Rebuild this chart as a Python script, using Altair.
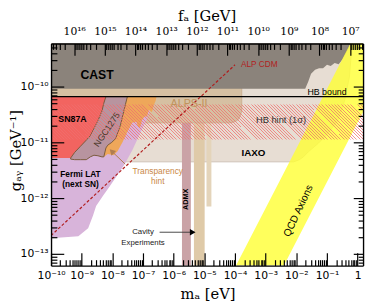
import numpy as np
import pandas as pd
import altair as alt

# ---------------- axis ranges ----------------
M_MIN, M_MAX = 1e-10, 1.5          # m_a [eV]
G_MIN, G_MAX = 6.2e-14, 5.9e-10    # g_a gamma [GeV^-1]
FA_TIMES_MA = 5.7e6                # f_a [GeV] * m_a [eV]

# ---------------- regions (log10 values) ----------------
cast_logm = [-10, -1.71, -1.61, -1.52, -1.39, -1.26, -1.13, -1.00, -0.88, -0.75, -0.62, -0.49, -0.40, -0.30, -0.24]
cast_logg = [-10.04, -10.04, -9.91, -9.77, -9.70, -9.67, -9.67, -9.61, -9.63, -9.58, -9.60, -9.51, -9.42, -9.32, -9.23]

iaxo_logm = [-10, -2.09, -1.90, -1.77, -1.61, -1.29, -0.97, -0.65, -0.43, -0.27, -0.18]
iaxo_logg = [-11.35, -11.35, -11.31, -11.26, -11.17, -11.02, -10.84, -10.61, -10.26, -9.83, -9.23]

alps_logm = [-10, -4.16, -4.00, -3.91, -3.84, -3.78]
alps_logg = [-10.65, -10.65, -10.63, -10.60, -10.54, -10.44]

fermi_logm = [-10, -9.11, -8.79, -8.63, -8.53, -8.31, -8.09, -7.83, -7.61, -7.35, -7.13, -6.87, -6.71]
fermi_logg = [-12.72, -12.68, -12.54, -12.31, -12.14, -11.96, -11.79, -11.58, -11.40, -11.14, -10.88, -10.58, -10.33]

orange_logm = [-8.28, -8.15, -7.96, -7.83, -7.67, -7.51, -7.35, -7.22, -7.16, -7.10, -7.03, -6.94, -6.87, -6.81, -6.71, -6.65, -6.59, -6.56]
orange_logg = [-11.26, -11.21, -11.23, -11.16, -11.00, -10.81, -10.65, -10.63, -10.72, -10.74, -10.60, -10.53, -10.54, -10.42, -10.46, -10.33, -10.26, -10.18]

sn_logm = [-10, -9.36, -9.11, -8.79, -8.47, -8.21, -8.09]
sn_logg = [-11.28, -11.28, -11.26, -11.14, -10.79, -10.44, -10.18]

ngc_logm = [-9.36, -9.23, -9.04, -8.85, -8.72, -8.60, -8.47, -8.34, -8.28, -8.21, -8.15, -8.02, -7.89, -7.74, -7.61, -7.51]
ngc_top = [-11.28, -11.18, -11.07, -10.96, -10.88, -10.75, -10.61, -10.44, -10.30, -10.18, -10.18, -10.18, -10.18, -10.18, -10.18, -10.18]
ngc_bot = [-11.30, -11.31, -11.31, -11.31, -11.26, -11.23, -11.24, -11.26, -11.26, -11.10, -11.05, -11.00, -10.93, -10.70, -10.40, -10.18]

qcd_logm = [-3.97, -2.41, 0.18]
qcd_upper = [-13.21, -11.55, -8.78]
qcd_lower = [-13.21, -13.21, -10.45]

# vertical haloscope strips: [logm_lo, logm_hi, logg_lo, logg_hi]
admx_strip = [-5.73, -5.44, -13.3, -10.65]
cavity_a = [-5.34, -4.99, -13.3, -10.65]
cavity_b = [-4.93, -4.77, -12.15, -10.65]

alp_cdm_logm = [-10.0, -4.0]
alp_cdm_logg = [-12.67, -9.61]

hb_bound_logg = -10.18
hb_hint_logg = [-10.95, -10.32]

# ---------------- ticks ----------------
SUP = str.maketrans("-0123456789", "⁻⁰¹²³⁴⁵⁶⁷⁸⁹")
m_exps = list(range(-10, 1))
g_exps = list(range(-13, -9))
f_exps = list(range(7, 17))


def pw(a):
    return [10.0 ** v for v in a]


def minor(kmin, kmax, lo, hi):
    return [j * 10.0 ** k for k in range(kmin, kmax + 1) for j in range(2, 10) if lo <= j * 10.0 ** k <= hi]


def lab(k):
    return "1" if k == 0 else "10" + str(k).translate(SUP)


def label_expr(exps):
    arr = ",".join("'%s'" % lab(k) for k in exps)
    return "[%s][round(log(datum.value)/LN10) - (%d)]" % (arr, exps[0])


xs = alt.Scale(type="log", domain=[M_MIN, M_MAX], nice=False)
ys = alt.Scale(type="log", domain=[G_MIN, G_MAX], nice=False)
fs = alt.Scale(type="log", domain=[FA_TIMES_MA / M_MAX, FA_TIMES_MA / M_MIN], reverse=True, nice=False)


def X(f):
    return alt.X(f, type="quantitative", scale=xs, axis=None)


def Y(f):
    return alt.Y(f, type="quantitative", scale=ys, axis=None)


def area(logm, lo, hi, **mk):
    if not isinstance(hi, list):
        hi = [hi] * len(logm)
    df = pd.DataFrame({"m": pw(logm), "lo": pw(lo), "hi": pw(hi)})
    return alt.Chart(df).mark_area(clip=True, **mk).encode(x=X("m"), y=Y("hi"), y2=alt.Y2("lo"))


def strip(r, **mk):
    df = pd.DataFrame({"m1": [10 ** r[0]], "m2": [10 ** r[1]], "g1": [10 ** r[2]], "g2": [10 ** r[3]]})
    return alt.Chart(df).mark_rect(clip=True, **mk).encode(x=X("m1"), x2=alt.X2("m2"), y=Y("g1"), y2=alt.Y2("g2"))


def text(t, lm, lg, **mk):
    df = pd.DataFrame({"t": [t], "m": [10 ** lm], "g": [10 ** lg]})
    base = dict(font="Liberation Sans", fontSize=9, color="black", align="center", baseline="middle")
    base.update(mk)
    return alt.Chart(df).mark_text(**base).encode(x=X("m"), y=Y("g"), text="t:N")


layers = []
layers.append(area(iaxo_logm, iaxo_logg, -9.0, color="#e7ddd3", stroke="#cbbfb3", strokeWidth=0.8))
layers.append(strip(admx_strip, color="#caa2a6"))
layers.append(strip(cavity_a, color="#dfcaa8"))
layers.append(strip(cavity_b, color="#e4d4ba"))
layers.append(area(alps_logm, alps_logg, -10.0, color="#d6c0a2", stroke="#c6ab8a", strokeWidth=0.8))
layers.append(area(fermi_logm, fermi_logg, -10.26, color="#d8b4da"))
layers.append(area(orange_logm, orange_logg, -10.18, color="#eea75a"))
layers.append(area(sn_logm, sn_logg, -10.18, color="#f26460"))
layers.append(area(ngc_logm, ngc_bot, ngc_top, fill="#b8949f", stroke="#7a5a3c", strokeWidth=1))
layers.append(area(cast_logm, cast_logg, -9.0, color="#8b837b"))
layers.append(area(qcd_logm, qcd_lower, qcd_upper, color="#ffff33", opacity=0.8))

# hatched HB hint band (diagonal stripes through a hard-stop gradient)
W, H = 319.0, 36.0
t = (1 / H + 1 / W) / (1 / H ** 2 + 1 / W ** 2)
N = 108
stops = []
for i in range(N):
    a, b = i / N, (i + 0.3) / N
    stops += [alt.GradientStop(offset=a, color="rgba(240,110,110,0)"),
              alt.GradientStop(offset=a, color="rgba(240,110,110,0.75)"),
              alt.GradientStop(offset=b, color="rgba(240,110,110,0.75)"),
              alt.GradientStop(offset=b, color="rgba(240,110,110,0)")]
hatch = alt.LinearGradient(gradient="linear", stops=stops, x1=0, y1=1, x2=t / H, y2=1 - t / W)
hb_df = pd.DataFrame({"m1": [M_MIN], "m2": [M_MAX], "g1": [10 ** hb_hint_logg[0]], "g2": [10 ** hb_hint_logg[1]]})
layers.append(alt.Chart(hb_df).mark_rect(clip=True, fill=hatch).encode(
    x=X("m1"), x2=alt.X2("m2"), y=Y("g1"), y2=alt.Y2("g2")))

layers.append(alt.Chart(pd.DataFrame({"g": [10 ** hb_bound_logg]})).mark_rule(
    color="black", strokeWidth=1.2).encode(y=Y("g")))
layers.append(alt.Chart(pd.DataFrame({"m": pw(alp_cdm_logm), "g": pw(alp_cdm_logg)})).mark_line(
    color="#b01c1c", strokeWidth=1.2, strokeDash=[3, 2], clip=True).encode(x=X("m"), y=Y("g")))

# arrows
tr_df = pd.DataFrame({"m": pw([-7.58, -8.0]), "g": pw([-11.39, -11.17])})
layers.append(alt.Chart(tr_df).mark_line(color="#b07d50", strokeWidth=1).encode(x=X("m"), y=Y("g")))
layers.append(alt.Chart(pd.DataFrame({"m": [10 ** -8.02], "g": [10 ** -11.16]})).mark_point(
    shape="triangle-up", filled=True, angle=315, size=45, color="#b07d50", opacity=1).encode(x=X("m"), y=Y("g")))
cav_df = pd.DataFrame({"m": pw([-6.46, -5.42]), "g": pw([-12.61, -12.61])})
layers.append(alt.Chart(cav_df).mark_line(color="#333333", strokeWidth=0.9).encode(x=X("m"), y=Y("g")))
layers.append(alt.Chart(pd.DataFrame({"m": [10 ** -5.38], "g": [10 ** -12.61]})).mark_point(
    shape="triangle-right", filled=True, size=45, color="black", opacity=1).encode(x=X("m"), y=Y("g")))

# labels
layers += [
    text("CAST", -8.50, -9.79, fontSize=12.5, fontWeight="bold"),
    text("SN87A", -9.30, -10.58, fontSize=9, fontWeight="bold"),
    text("NGC1275", -8.18, -10.77, fontSize=9, angle=304, color="#4a3628"),
    text("Fermi LAT", -9.04, -11.56, fontSize=8.5, fontWeight="bold"),
    text("(next SN)", -9.04, -11.75, fontSize=8.5, fontWeight="bold"),
    text("Transparency", -6.52, -11.51, fontSize=8.5, color="#c98746"),
    text("hint", -6.52, -11.70, fontSize=8.5, color="#c98746"),
    text("ALPS-II", -5.50, -10.32, fontSize=11, color="#c0935c"),
    text("HB hint (1σ)", -2.50, -10.60, fontSize=9.5, color="#333333"),
    text("IAXO", -3.40, -11.19, fontSize=10, fontWeight="bold"),
    text("HB bound", -1.00, -10.09, fontSize=9),
    text("ALP CDM", -3.21, -9.60, fontSize=8.5, color="#b22222"),
    text("ADMX", -5.60, -12.02, fontSize=7.5, fontWeight="bold", angle=270),
    text("QCD Axions", -1.93, -12.23, fontSize=10.5, angle=295),
    text("Cavity", -7.00, -12.61, fontSize=8, color="#222222"),
    text("Experiments", -7.00, -12.80, fontSize=8, color="#222222"),
]

# ---------------- axes ----------------
COMMON = dict(grid=False, zindex=3, labelFlush=False, labelOverlap=False)


def axis_layer(channel, field, vals, scale, **ax):
    df = pd.DataFrame({field: vals})
    kw = dict(COMMON)
    kw.update(ax)
    enc = alt.X if channel == "x" else alt.Y
    return alt.Chart(df).mark_point(opacity=0).encode(
        **{channel: enc(field, type="quantitative", scale=scale, axis=alt.Axis(**kw))})


def tick_axis(channel, field, vals, scale, orient, size, width=1.2):
    return axis_layer(channel, field, vals, scale, orient=orient, values=vals, labels=False, domain=False,
                      ticks=True, tickSize=size, offset=-size, tickColor="black", tickWidth=width, title=None)


maj_m = [10.0 ** k for k in m_exps]
min_m = minor(-10, -1, M_MIN, M_MAX)
maj_g = [10.0 ** k for k in g_exps]
min_g = minor(-14, -10, G_MIN, G_MAX)
maj_f = [10.0 ** k for k in f_exps]
min_f = minor(6, 16, FA_TIMES_MA / M_MAX, FA_TIMES_MA / M_MIN)

layers += [
    axis_layer("x", "mv", maj_m, xs, orient="bottom", values=maj_m, labelExpr=label_expr(m_exps),
               ticks=False, tickSize=0, domain=True, domainColor="black", domainWidth=1.4,
               labelFont="DejaVu Sans", labelFontSize=11, labelColor="black", labelPadding=4,
               title="mₐ [eV]", titleFont="DejaVu Serif", titleFontSize=15, titleFontWeight="normal",
               titleColor="black", titleX=160, titleY=29, titleAlign="center", titleBaseline="middle"),
    tick_axis("x", "mv", maj_m, xs, "bottom", 13),
    tick_axis("x", "mv", min_m, xs, "bottom", 6),
    axis_layer("x", "fv", maj_f, fs, orient="top", values=maj_f, labelExpr=label_expr(f_exps),
               ticks=False, tickSize=0, domain=True, domainColor="black", domainWidth=1.4,
               labelFont="DejaVu Serif", labelFontSize=11, labelColor="black", labelPadding=7,
               title="fₐ [GeV]", titleFont="DejaVu Serif", titleFontSize=15, titleFontWeight="normal",
               titleColor="black", titleX=159, titleY=-29, titleAlign="center", titleBaseline="middle"),
    tick_axis("x", "fv", maj_f, fs, "top", 12),
    tick_axis("x", "fv", min_f, fs, "top", 6),
    axis_layer("y", "gv", maj_g, ys, orient="left", values=maj_g, labelExpr=label_expr(g_exps),
               ticks=False, tickSize=0, domain=True, domainColor="black", domainWidth=1.4,
               labelFont="DejaVu Sans", labelFontSize=11, labelColor="black", labelPadding=3,
               title="gₐᵧ [GeV⁻¹]", titleFont="DejaVu Serif", titleFontSize=15, titleFontWeight="normal",
               titleColor="black", titleX=-36, titleY=109, titleAlign="center", titleBaseline="middle",
               titleAngle=270),
    tick_axis("y", "gv", maj_g, ys, "left", 13),
    tick_axis("y", "gv", min_g, ys, "left", 6),
    axis_layer("y", "gv", maj_g, ys, orient="right", values=maj_g, labels=False, ticks=False, tickSize=0,
               domain=True, domainColor="black", domainWidth=1.4, title=None),
    tick_axis("y", "gv", maj_g, ys, "right", 10),
    tick_axis("y", "gv", min_g, ys, "right", 5),
]

chart = alt.layer(*layers).resolve_scale(x="independent", y="independent").properties(
    width=319, height=227,
    autosize=alt.AutoSizeParams(type="none"),
    padding={"left": 44, "top": 33, "right": 3, "bottom": 38},
    background="white",
).configure_view(stroke=None)

chart.save("out.html", embed_options={"renderer": "svg", "actions": False})
